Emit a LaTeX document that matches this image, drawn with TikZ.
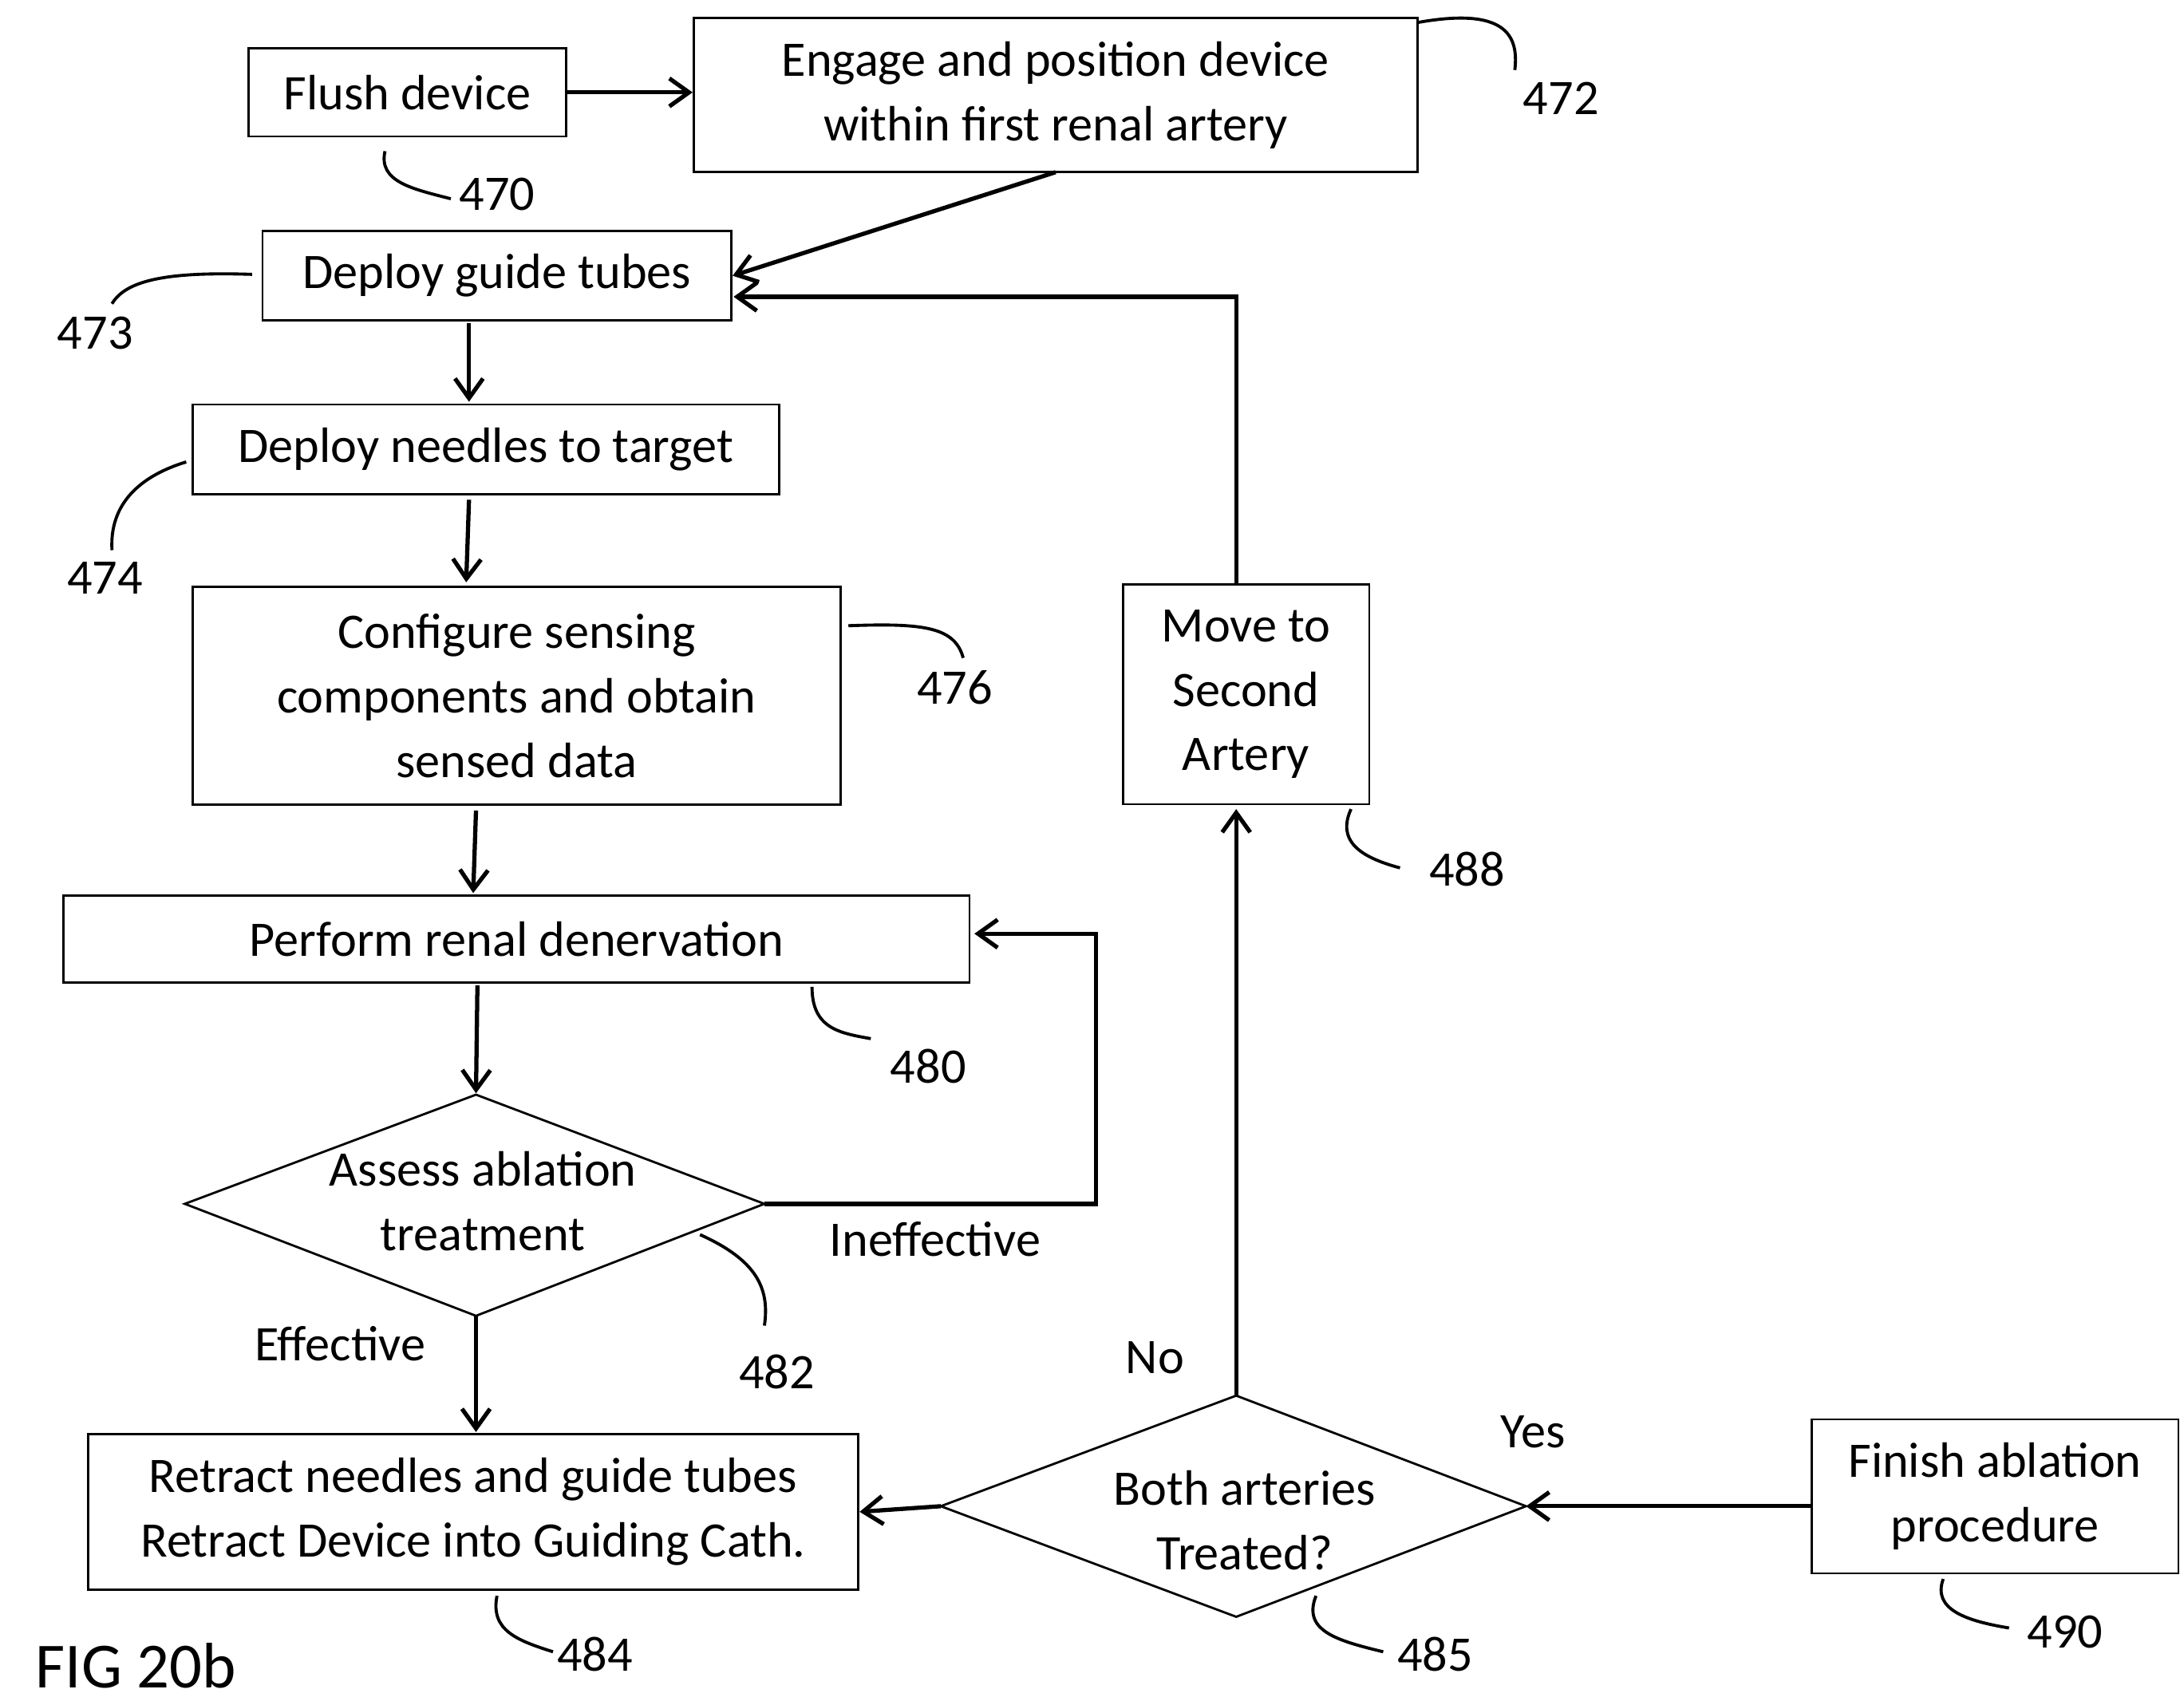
\documentclass[tikz,border=0pt]{standalone}
\usepackage{fontspec}
\setmainfont{Carlito}
\usetikzlibrary{shapes.geometric,arrows.meta}
\begin{document}
\begin{tikzpicture}[x=1pt,y=-1pt,
  every node/.style={font=\fontsize{35.5}{46}\selectfont},
  box/.style={draw,line width=1.6pt,inner sep=0pt,align=center},
  arr/.style={line width=3pt,-{Straight Barb[length=14pt,width=20pt]}},
  lead/.style={line width=2.2pt},
  lab/.style={inner sep=0pt,align=center}]
\useasboundingbox (0,0) rectangle (1560,1215);
\node[box,minimum width=227,minimum height=63] (f) at (291,66) {Flush device};
\node[box,minimum width=517,minimum height=110] (e) at (754,68) {Engage and position device\\within first renal artery};
\node[box,minimum width=335,minimum height=64] (g) at (355,197) {Deploy guide tubes};
\node[box,minimum width=419,minimum height=64] (n) at (347,321) {Deploy needles to target};
\node[box,minimum width=463,minimum height=156] (c) at (369,497) {Configure sensing\\components and obtain\\sensed data};
\node[box,minimum width=647,minimum height=62] (p) at (369,671) {Perform renal denervation};
\coordinate (aL) at (132,860); \coordinate (aR) at (546,860);
\coordinate (aT) at (340,782); \coordinate (aB) at (340,940);
\draw[line width=1.6pt] (aL)--(aT)--(aR)--(aB)--cycle;
\node[lab] (at) at (345,858) {Assess ablation\\treatment};
\node[box,minimum width=550,minimum height=111] (r) at (338,1080) {Retract needles and guide tubes\\Retract Device into Guiding Cath.};
\coordinate (bL) at (672,1076); \coordinate (bR) at (1090,1076);
\coordinate (bT) at (883,997); \coordinate (bB) at (883,1155);
\draw[line width=1.6pt] (bL)--(bT)--(bR)--(bB)--cycle;
\node[lab] (bt) at (889,1086) {Both arteries\\Treated?};
\node[box,minimum width=262,minimum height=110] (fi) at (1425,1069) {Finish ablation\\procedure};
\node[box,minimum width=176,minimum height=157] (m) at (890,496) {Move to\\Second\\Artery};
% arrows
\draw[arr] (f.east) -- (e.west|-f.east);
\draw[arr] (754,123) -- (g.east);
\draw[arr] (335,231) -- (335,287);
\draw[arr] (335,357) -- (333,416);
\draw[arr] (340,579) -- (338,638);
\draw[arr] (341,704) -- (340,781);
\draw[arr] (aR) -- (783,860) -- (783,667) -- (696,667);
\draw[arr] (aB) -- (340,1023);
\draw[arr] (bL) -- (614,1080);
\draw[arr] (fi.west|-bR) -- (bR);
\draw[arr] (bT) -- (883,578);
\draw[arr] (883,418) -- (883,212) -- (524,212);
% labels
\node[lab] (l472) at (1115,70) {472};
\draw[lead] (1013,16) .. controls (1075,5) and (1085,25) .. (1082,50);
\node[lab] (l470) at (355,139) {470};
\draw[lead] (275,108) .. controls (270,130) and (295,135) .. (322,142);
\node[lab] (l473) at (68,238) {473};
\draw[lead] (180,196) .. controls (120,194) and (90,200) .. (80,217);
\node[lab] (l474) at (75,413) {474};
\draw[lead] (133,330) .. controls (100,340) and (78,360) .. (80,393);
\node[lab] (l476) at (682,491) {476};
\draw[lead] (606,447) .. controls (660,445) and (682,448) .. (688,470);
\node[lab] (l480) at (663,762) {480};
\draw[lead] (580,705) .. controls (580,735) and (600,738) .. (622,742);
\node[lab] (l482) at (555,980) {482};
\draw[lead] (500,882) .. controls (540,900) and (550,920) .. (546,947);
\node[lab] (l488) at (1048,621) {488};
\draw[lead] (965,578) .. controls (955,600) and (970,612) .. (1000,620);
\node[lab] (l484) at (425,1182) {484};
\draw[lead] (355,1140) .. controls (350,1165) and (370,1172) .. (395,1180);
\node[lab] (l485) at (1025,1182) {485};
\draw[lead] (940,1140) .. controls (930,1165) and (955,1172) .. (988,1180);
\node[lab] (l490) at (1475,1166) {490};
\draw[lead] (1388,1128) .. controls (1380,1150) and (1405,1158) .. (1435,1163);
\node[lab] (t1) at (668,885) {Ineffective};
\node[lab] (t2) at (243,960) {Effective};
\node[lab] (t3) at (825,970) {No};
\node[lab] (t4) at (1095,1023) {Yes};
\node[lab,font=\fontsize{46}{50}\selectfont] (fig) at (97,1190) {FIG 20b};
\end{tikzpicture}
\end{document}
